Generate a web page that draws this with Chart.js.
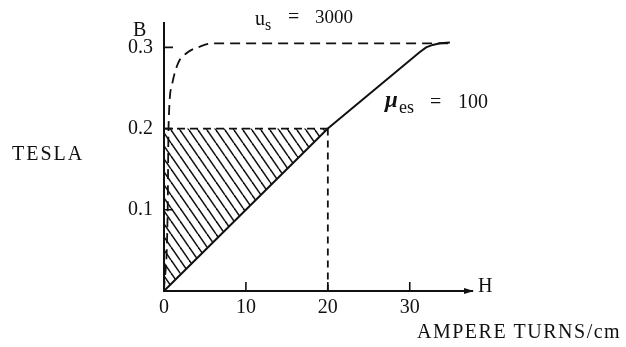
<!DOCTYPE html>
<html>
<head>
<meta charset="UTF-8">
<title>B-H curve</title>
<script src="https://cdn.jsdelivr.net/npm/chart.js"></script>
<style>
  html, body { margin:0; padding:0; background:#fff; }
  #wrap { width:626px; height:347px; position:relative; }
</style>
</head>
<body>
<div id="wrap"><canvas id="bh"></canvas></div>
<script>
/* ==== data ==== */
const xTicks = [0, 10, 20, 30];
const yTicks = [0.1, 0.2, 0.3];
const xMax = 37.6;
const yMax = 0.33;

// mu_es = 100 curve
const hLinear = [0, 20, 31.2, 32.0, 32.8, 33.7, 34.9];
const bLinear = [0, 0.2, 0.294, 0.300, 0.303, 0.305, 0.306];
// u_s = 3000 curve (dashed)
const hSteep = [0, 0.45, 0.55, 1.0, 1.7, 2.9, 4.4, 6.0, 34.9];
const bSteep = [0, 0.1, 0.2, 0.255, 0.28, 0.294, 0.301, 0.305, 0.305];
// hatched region and the 20 / 0.2 guide lines
const hHatch = [0, 0, 20, 0];
const bHatch = [0, 0.2, 0.2, 0];
const hGuideH = [0, 20];
const bGuideH = [0.2, 0.2];
const hGuideV = [20, 20];
const bGuideV = [0.2, 0];

/* ==== helpers ==== */
const ink = '#111';
const pts = (xs, ys) => xs.map((x, i) => ({x, y: ys[i]}));

function hatchPattern(){
  const c = document.createElement('canvas');
  c.width = 9; c.height = 13;
  const g = c.getContext('2d');
  g.strokeStyle = ink; g.lineWidth = 1.5;
  for (const o of [-9, 0, 9]) {
    g.beginPath(); g.moveTo(o, 0); g.lineTo(o + 9, 13); g.stroke();
  }
  return g.createPattern(c, 'repeat');
}

function txt(ctx, s, x, y, font, spacing){
  ctx.font = font;
  ctx.letterSpacing = (spacing || 0) + 'px';
  ctx.fillText(s, x, y);
  ctx.letterSpacing = '0px';
}

/* ==== extra marks: inner ticks, arrow, labels ==== */
const extras = {
  id: 'extras',
  afterDraw(chart){
    const {ctx, chartArea: a, scales: {x, y}} = chart;
    ctx.save();
    ctx.strokeStyle = ink; ctx.fillStyle = ink; ctx.lineWidth = 1.6;
    ctx.beginPath();
    yTicks.forEach(v => { const py = y.getPixelForValue(v); ctx.moveTo(a.left, py); ctx.lineTo(a.left + 9, py); });
    xTicks.slice(1).forEach(v => { const px = x.getPixelForValue(v); ctx.moveTo(px, a.bottom); ctx.lineTo(px, a.bottom - 9); });
    ctx.stroke();

    // arrow head on H axis
    ctx.beginPath();
    ctx.moveTo(a.right + 2, a.bottom);
    ctx.lineTo(a.right - 8, a.bottom - 3);
    ctx.lineTo(a.right - 8, a.bottom + 3);
    ctx.closePath(); ctx.fill();

    ctx.textBaseline = 'alphabetic';
    ctx.textAlign = 'left';
    const serif = '"Liberation Serif"';
    txt(ctx, 'B', a.left - 31, a.top + 13, '20px ' + serif);
    txt(ctx, 'H', a.right + 6, a.bottom + 1, '20px ' + serif);
    txt(ctx, 'TESLA', 12, 160, '20px ' + serif, 2);
    txt(ctx, 'AMPERE TURNS/cm', 417, 338, '20px ' + serif, 1.5);

    // u_s = 3000
    txt(ctx, 'u', 255, 25, '20px ' + serif);
    txt(ctx, 's', 265, 30, '16px ' + serif);
    txt(ctx, '=', 288, 23, '20px ' + serif);
    txt(ctx, '3000', 315, 23, '19px ' + serif);

    // mu_es = 100
    txt(ctx, 'μ', 385, 107, 'italic bold 23px ' + serif);
    txt(ctx, 'es', 399, 113, '18px ' + serif);
    txt(ctx, '=', 430, 108, '20px ' + serif);
    txt(ctx, '100', 458, 108, '20px ' + serif);
    ctx.restore();
  }
};

/* ==== chart ==== */
Chart.defaults.font.family = '"Liberation Serif", serif';
Chart.defaults.color = ink;

new Chart(document.getElementById('bh'), {
  type: 'line',
  data: {
    datasets: [
      { data: pts(hLinear, bLinear), borderColor: ink, borderWidth: 2,
        tension: 0, pointRadius: 0, fill: false },
      { data: pts(hSteep, bSteep), borderColor: ink, borderWidth: 1.8, borderDash: [10, 6],
        cubicInterpolationMode: 'monotone', pointRadius: 0, fill: false },
      { data: pts(hGuideH, bGuideH), borderColor: ink, borderWidth: 1.8, borderDash: [8, 5],
        pointRadius: 0, fill: false },
      { data: pts(hGuideV, bGuideV), borderColor: ink, borderWidth: 1.8, borderDash: [7, 5],
        pointRadius: 0, fill: false },
      { data: pts(hHatch, bHatch), borderWidth: 0, borderColor: 'rgba(0,0,0,0)',
        backgroundColor: hatchPattern(), pointRadius: 0, fill: 'shape' }
    ]
  },
  options: {
    responsive: true,
    maintainAspectRatio: false,
    animation: false,
    layout: { padding: { top: 15, right: 154, bottom: 0, left: 0 } },
    plugins: { legend: { display: false }, tooltip: { enabled: false } },
    scales: {
      x: {
        type: 'linear', min: 0, max: xMax,
        grid: { display: false, drawTicks: false },
        border: { display: true, color: ink, width: 2 },
        afterBuildTicks: s => { s.ticks = xTicks.map(v => ({value: v})); },
        afterFit: s => { s.height = 56; },
        ticks: { font: { size: 20 }, padding: 5, maxRotation: 0, color: ink }
      },
      y: {
        type: 'linear', min: 0, max: yMax,
        grid: { display: false, drawTicks: false },
        border: { display: true, color: ink, width: 2 },
        afterBuildTicks: s => { s.ticks = yTicks.map(v => ({value: v})); },
        afterFit: s => { s.width = 164; },
        ticks: { font: { size: 20 }, padding: 11, color: ink, callback: v => v.toFixed(1) }
      }
    }
  },
  plugins: [extras]
});
</script>
</body>
</html>
